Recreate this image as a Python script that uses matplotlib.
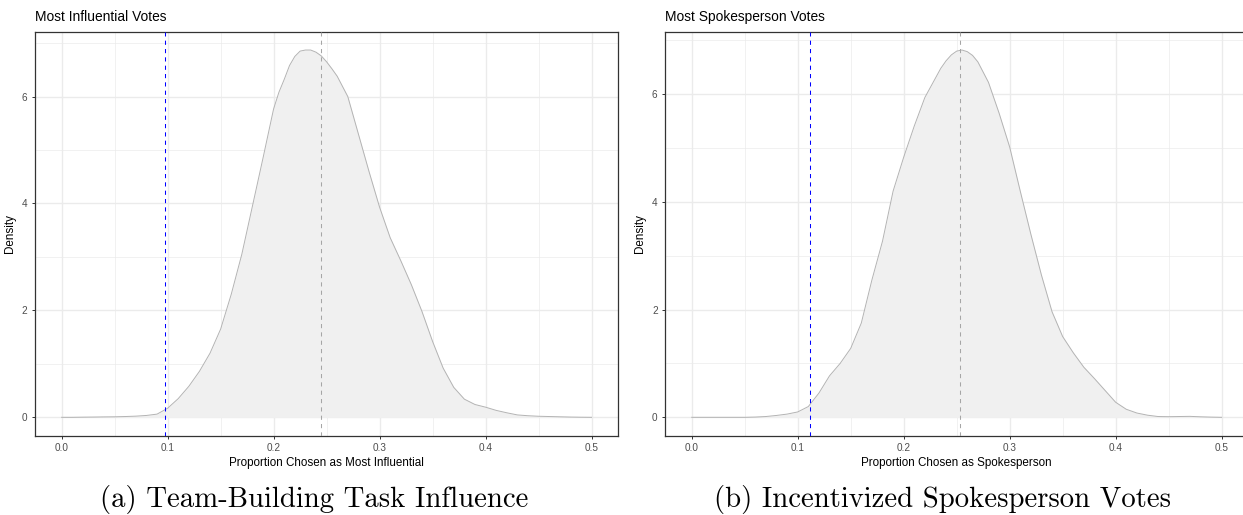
import numpy as np
import matplotlib
matplotlib.use("Agg")
import matplotlib.pyplot as plt
from matplotlib.ticker import MultipleLocator

plt.rcParams['font.family'] = ['Liberation Sans', 'DejaVu Sans']

# densités
influence_x = [0.00, 0.01, 0.02, 0.03, 0.04, 0.05, 0.06, 0.07, 0.08, 0.09,
               0.10, 0.11, 0.12, 0.13, 0.14, 0.15, 0.16, 0.17, 0.18, 0.19,
               0.20, 0.205, 0.21, 0.215, 0.22, 0.225, 0.23, 0.235, 0.24, 0.245,
               0.25, 0.255, 0.26, 0.27, 0.28, 0.29,
               0.30, 0.31, 0.32, 0.33, 0.34, 0.35, 0.36, 0.37, 0.38, 0.39,
               0.40, 0.41, 0.42, 0.43, 0.44, 0.45, 0.46, 0.47, 0.48, 0.49, 0.50]
influence_density = [0.0, 0.0, 0.003, 0.005, 0.008, 0.01, 0.015, 0.022, 0.035, 0.06,
                     0.17, 0.35, 0.58, 0.86, 1.2, 1.65, 2.3, 3.05, 3.95, 4.85,
                     5.77, 6.08, 6.32, 6.58, 6.75, 6.85, 6.87, 6.87, 6.83, 6.76,
                     6.65, 6.52, 6.38, 6.0, 5.3, 4.6,
                     3.93, 3.36, 2.93, 2.48, 1.98, 1.42, 0.92, 0.56, 0.34, 0.24,
                     0.19, 0.13, 0.085, 0.045, 0.03, 0.02, 0.015, 0.01, 0.005, 0.002, 0.0]

spokes_x = [0.00, 0.01, 0.02, 0.03, 0.04, 0.05, 0.06, 0.07, 0.08, 0.09,
            0.10, 0.11, 0.12, 0.13, 0.14, 0.15, 0.16, 0.17, 0.18, 0.19,
            0.20, 0.21, 0.22, 0.23, 0.235, 0.24, 0.245, 0.25, 0.255, 0.26,
            0.265, 0.27, 0.28, 0.29,
            0.30, 0.31, 0.32, 0.33, 0.34, 0.35, 0.36, 0.37, 0.38, 0.39,
            0.40, 0.41, 0.42, 0.43, 0.44, 0.45, 0.46, 0.47, 0.48, 0.49, 0.50]
spokes_density = [0.0, 0.0, 0.0, 0.0, 0.0, 0.0, 0.005, 0.015, 0.035, 0.06,
                  0.1, 0.2, 0.45, 0.77, 1.0, 1.28, 1.75, 2.55, 3.27, 4.2,
                  4.83, 5.41, 5.94, 6.3, 6.48, 6.62, 6.73, 6.8, 6.82, 6.79,
                  6.72, 6.6, 6.22, 5.65,
                  5.02, 4.2, 3.4, 2.64, 1.96, 1.5, 1.2, 0.93, 0.72, 0.5,
                  0.28, 0.15, 0.08, 0.04, 0.015, 0.012, 0.015, 0.018, 0.01, 0.004, 0.0]

influence_obs = 0.0974   # ligne bleue
influence_mean = 0.2446  # ligne grise
spokes_obs = 0.1117
spokes_mean = 0.2534

titles = ["Most Influential Votes", "Most Spokesperson Votes"]
xlabels = ["Proportion Chosen as Most Influential", "Proportion Chosen as Spokesperson"]
captions = ["(a) Team-Building Task Influence", "(b) Incentivized Spokesperson Votes"]


def panel(ax, xs, dens, obs, mean, title, xlabel):
	dens = np.array(dens)
	ax.fill_between(xs, 0, dens, color="#F0F0F0", lw=0, zorder=2)
	ax.plot(xs, dens, color="#B3B3B3", lw=0.7, zorder=3)
	ax.axvline(obs, color="blue", lw=0.75, ls=(0, (4, 4)), zorder=4)
	ax.axvline(mean, color="#A6A6A6", lw=0.75, ls=(0, (4, 4)), zorder=4)

	ax.set_xlim(-0.025, 0.525)
	ax.set_ylim(-0.05 * dens.max(), 1.05 * dens.max())
	ax.xaxis.set_minor_locator(MultipleLocator(0.05))
	ax.yaxis.set_major_locator(MultipleLocator(2))
	ax.yaxis.set_minor_locator(MultipleLocator(1))
	ax.set_xticks(np.arange(0, 0.51, 0.1))
	ax.set_xticklabels([f"{v:.1f}" for v in np.arange(0, 0.51, 0.1)])
	ax.set_yticklabels([f"{v:g}" for v in ax.get_yticks()])

	ax.grid(which="major", color="#EBEBEB", lw=1.0, zorder=0)
	ax.grid(which="minor", color="#EBEBEB", lw=0.5, zorder=0)
	ax.set_axisbelow(True)
	for s in ax.spines.values():
		s.set_color("#333333")
		s.set_linewidth(0.9)
	ax.tick_params(which="major", length=2.5, width=0.7, color="#333333",
				   labelsize=7.2, labelcolor="#4D4D4D", pad=3)
	ax.tick_params(which="minor", length=0)

	ax.set_xlabel(xlabel, fontsize=8.4, labelpad=3)
	ax.set_ylabel("Density", fontsize=8.4, labelpad=4)
	ax.set_title(title, loc="left", fontsize=9.9, pad=8)


fig = plt.figure(figsize=(12.43, 5.15), dpi=100)
ax1 = fig.add_axes([0.0283, 0.154, 0.4689, 0.7845])
ax2 = fig.add_axes([0.5352, 0.154, 0.4689, 0.7845])

panel(ax1, influence_x, influence_density, influence_obs, influence_mean, titles[0], xlabels[0])
panel(ax2, spokes_x, spokes_density, spokes_obs, spokes_mean, titles[1], xlabels[1])

fig.text(313.8 / 1243, 8 / 515, captions[0], family="cmr10", fontsize=20.7,
		 ha="center", va="baseline")
fig.text(942.6 / 1243, 8 / 515, captions[1], family="cmr10", fontsize=20.7,
		 ha="center", va="baseline")

fig.savefig("out.png", dpi=100)
